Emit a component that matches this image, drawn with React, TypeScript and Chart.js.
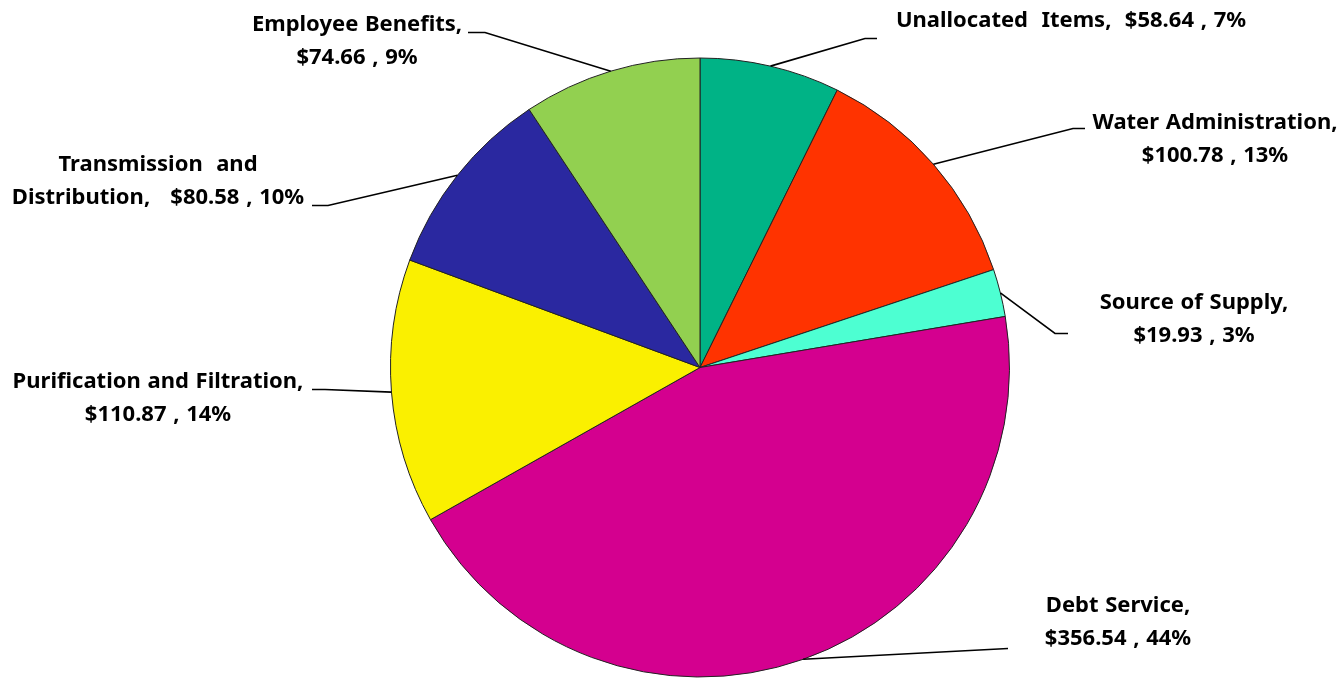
import React, { useEffect, useRef } from "react";
import { Chart, registerables } from "chart.js";

Chart.register(...registerables);

const categories = [
  "Unallocated Items",
  "Water Administration",
  "Source of Supply",
  "Debt Service",
  "Purification and Filtration",
  "Transmission and Distribution",
  "Employee Benefits",
];
const amounts = [58.64, 100.78, 19.93, 356.54, 110.87, 80.58, 74.66];
const percents = [7, 13, 3, 44, 14, 10, 9];
const colors = ["#00B386", "#FF3300", "#4DFFD2", "#D4008F", "#FAF000", "#2A28A0", "#92D050"];

// label layout (offsets from pie centre, px) — styling only
const labelLayout = [
  { mode: "one", elbow: [165, -329], tail: 12, text: [371, -347] },
  { mode: "two", elbow: [373, -239], tail: 12, text: [515, -245] },
  { mode: "two", elbow: [355, -34], tail: 13, text: [494, -65] },
  { mode: "two", elbow: [308, 281], tail: 0, text: [418, 238] },
  { mode: "two", elbow: [-375, 22], tail: -13, text: [-542, 14] },
  { mode: "split", elbow: [-372, -162], tail: -16, text: [-542, -203] },
  { mode: "two", elbow: [-215, -335], tail: -17, text: [-343, -343] },
];

function labelLines(i: number): string[] {
  const name = categories[i];
  const val = "$" + amounts[i].toFixed(2) + " , " + percents[i] + "%";
  const mode = labelLayout[i].mode;
  if (mode === "one") return [name.replace(" ", "  ") + ",  " + val];
  if (mode === "split") {
    const words = name.split(" ");
    return [words.slice(0, 2).join("  "), words.slice(2).join(" ") + ",   " + val];
  }
  return [name + ",", val];
}

const labelPlugin = {
  id: "leaderLabels",
  afterDraw(chart: any) {
    const ctx = chart.ctx;
    const meta = chart.getDatasetMeta(0);
    ctx.save();
    meta.data.forEach((arc: any, i: number) => {
      const p = arc.getProps(["x", "y", "startAngle", "endAngle", "outerRadius"], true);
      const mid = (p.startAngle + p.endAngle) / 2;
      const ex = p.x + p.outerRadius * Math.cos(mid);
      const ey = p.y + p.outerRadius * Math.sin(mid);
      const L = labelLayout[i];
      const bx = p.x + L.elbow[0];
      const by = p.y + L.elbow[1];
      ctx.beginPath();
      ctx.strokeStyle = "#000";
      ctx.lineWidth = 1.6;
      ctx.moveTo(ex, ey);
      ctx.lineTo(bx, by);
      if (L.tail !== 0) ctx.lineTo(bx + L.tail, by);
      ctx.stroke();

      ctx.fillStyle = "#000";
      ctx.font = "bold 22px 'Noto Sans', sans-serif";
      (ctx as any).wordSpacing = "1px";
      ctx.textAlign = "center";
      ctx.textBaseline = "middle";
      const lines = labelLines(i);
      lines.forEach((t, k) => {
        ctx.fillText(t, p.x + L.text[0], p.y + L.text[1] + k * 33);
      });
    });
    ctx.restore();
  },
};

export default function App() {
  const ref = useRef<HTMLCanvasElement>(null);
  useEffect(() => {
    document.body.style.margin = "0";
    document.documentElement.style.overflow = "hidden";
    const chart = new Chart(ref.current!, {
      type: "pie",
      data: {
        labels: categories,
        datasets: [
          {
            data: amounts,
            backgroundColor: colors,
            borderColor: "#222",
            borderWidth: 1,
          },
        ],
      },
      options: {
        animation: false,
        responsive: true,
        maintainAspectRatio: false,
        layout: { padding: { left: 390, right: 333, top: 57, bottom: 1 } },
        plugins: {
          legend: { display: false },
          tooltip: { enabled: false },
        },
      },
      plugins: [labelPlugin],
    });
    return () => chart.destroy();
  }, []);
  return (
    <div style={{ position: "fixed", left: 0, top: 0, width: 1343, height: 679, background: "#fff" }}>
      <canvas ref={ref} />
    </div>
  );
}
